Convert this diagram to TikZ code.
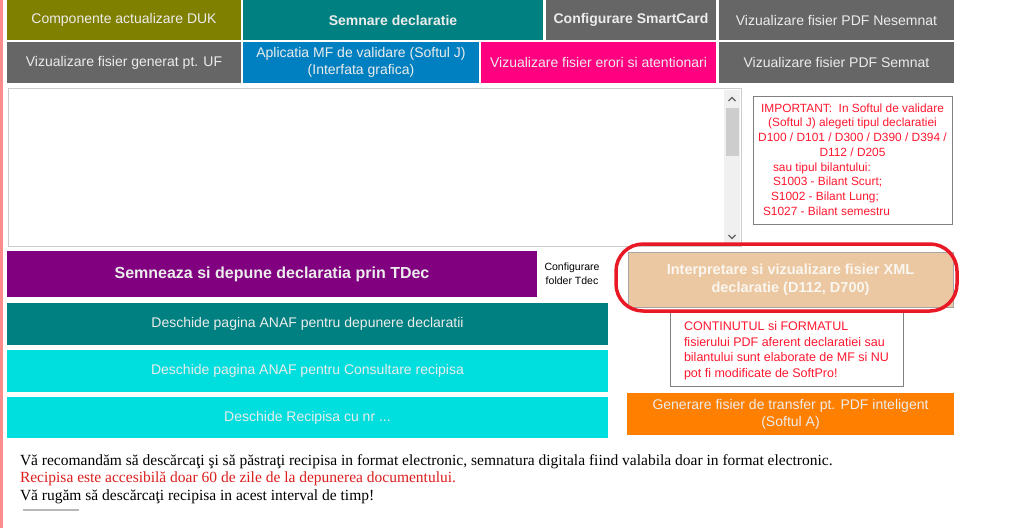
\documentclass[tikz,border=0pt]{standalone}
\usepackage{fontspec}
\setmainfont{Liberation Sans}
\newfontfamily\serifrm{Liberation Serif}
\definecolor{olivebtn}{RGB}{128,128,0}
\definecolor{tealbtn}{RGB}{0,128,128}
\definecolor{graybtn}{RGB}{102,102,102}
\definecolor{bluebtn}{RGB}{0,128,192}
\definecolor{pinkbtn}{RGB}{255,0,128}
\definecolor{purplebtn}{RGB}{128,0,128}
\definecolor{cyanbtn}{RGB}{0,222,222}
\definecolor{beigebtn}{RGB}{236,200,162}
\definecolor{orangebtn}{RGB}{255,128,0}
\definecolor{notered}{RGB}{255,24,48}
\definecolor{ringred}{RGB}{232,24,36}
\definecolor{btntext}{RGB}{236,236,236}
\definecolor{beigetext}{RGB}{250,246,240}
\definecolor{pinkedge}{RGB}{255,140,140}
\definecolor{memoborder}{RGB}{204,204,204}
\definecolor{boxgray}{RGB}{128,128,128}
\definecolor{scrollbg}{RGB}{240,240,240}
\definecolor{thumbgray}{RGB}{205,205,205}
\definecolor{arrowgray}{RGB}{96,96,96}
\definecolor{textred}{RGB}{220,30,30}
\newcommand\placebox[7]{\node[#6,minimum width={(#4)-(#2)},minimum height={(#5)-(#3)}] (#1) at ({((#2)+(#4))/2},{((#3)+(#5))/2}) {#7};}
\begin{document}
\begin{tikzpicture}[x=1pt,y=-1pt,
  btn/.style={rectangle,inner sep=0pt,outer sep=0pt,align=center,text=btntext,font=\fontsize{14}{17}\selectfont},
  boldbtn/.style={btn,font=\fontsize{14}{17}\bfseries},
  bigbtn/.style={btn,font=\fontsize{16}{19}\bfseries},
  panel/.style={rectangle,inner sep=0pt,outer sep=0pt,fill=white},
  notetext/.style={inner sep=0pt,outer sep=0pt,text=notered,font=\fontsize{11.9}{14.7}\selectfont},
  contenttext/.style={inner sep=0pt,outer sep=0pt,text=notered,align=left,font=\fontsize{12.5}{15.6}\selectfont},
  bottomtext/.style={inner sep=0pt,outer sep=0pt,anchor=base west,font=\serifrm\fontsize{15.5}{18}\selectfont},
  ringstyle/.style={rectangle,draw=ringred,line width=3.5pt,rounded corners=27pt,inner sep=0pt,outer sep=0pt}
]
\useasboundingbox[fill=white] (0,0) rectangle (1024,528);
\fill[pinkedge] (0,0) rectangle (3,528);
% row 1
\placebox{duk}{7}{0}{241}{40}{btn,fill=olivebtn}{Componente actualizare DUK}
\placebox{semnare}{243}{0}{543}{40}{boldbtn,fill=tealbtn}{Semnare declaratie}
\placebox{smartcard}{546}{0}{716}{40}{boldbtn,fill=graybtn}{Configurare SmartCard}
\placebox{pdfnesemnat}{719}{0}{954}{40}{btn,fill=graybtn}{Vizualizare fisier PDF Nesemnat}
% row 2
\placebox{uf}{7}{42}{241}{83}{btn,fill=graybtn}{Vizualizare fisier generat pt. UF}
\placebox{softj}{243}{42}{479}{83}{btn,fill=bluebtn}{Aplicatia MF de validare (Softul J)\\(Interfata grafica)}
\placebox{erori}{481}{42}{716}{83}{btn,fill=pinkbtn}{Vizualizare fisier erori si atentionari}
\placebox{pdfsemnat}{719}{42}{954}{83}{btn,fill=graybtn}{Vizualizare fisier PDF Semnat}
% text area with scrollbar
\placebox{memo}{8.5}{88.5}{741.5}{246.5}{panel,draw=memoborder,line width=1.5pt}{}
\placebox{scroll}{724}{90}{740}{245}{panel,fill=scrollbg}{}
\placebox{thumb}{725.5}{108}{738.5}{156}{panel,fill=thumbgray}{}
\draw[arrowgray,line width=1.1pt] (728.5,101) -- (732,97.5) -- (735.5,101);
\draw[arrowgray,line width=1.1pt] (728.5,235) -- (732,238.5) -- (735.5,235);
% important note
\placebox{note}{753.5}{96.5}{952.5}{224.5}{panel,draw=boxgray,line width=1pt}{}
\node[notetext,align=center,anchor=north] (notea) at (852.5,103.5) {IMPORTANT:\ \ In Softul de validare\\(Softul J) alegeti tipul declaratiei\\D100 / D101 / D300 / D390 / D394 /\\D112 / D205};
\node[notetext,align=left,anchor=north west] (noteb) at (763,162.5) {\hspace*{10pt}sau tipul bilantului:\\\hspace*{10pt}S1003 - Bilant Scurt;\\\hspace*{8pt}S1002 - Bilant Lung;\\S1027 - Bilant semestru};
% left buttons
\placebox{tdec}{7}{251}{537}{297}{bigbtn,fill=purplebtn}{Semneaza si depune declaratia prin TDec}
\node[inner sep=0pt,align=center,font=\fontsize{10.5}{14}\selectfont] (tdecfolder) at (572,274) {Configurare\\folder Tdec};
\placebox{depunere}{7}{303}{608}{345}{btn,fill=tealbtn}{Deschide pagina ANAF pentru depunere declaratii}
\placebox{consultare}{7}{350}{608}{392}{btn,fill=cyanbtn}{Deschide pagina ANAF pentru Consultare recipisa}
\placebox{recipisa}{7}{397}{608}{438}{btn,fill=cyanbtn}{Deschide Recipisa cu nr ...}
% right column
\placebox{content}{670.5}{310}{903.5}{386.5}{panel,draw=boxgray,line width=1pt}{}
\node[contenttext,anchor=north west] (contenttxt) at (684,321.5) {CONTINUTUL si FORMATUL\\fisierului PDF aferent declaratiei sau\\bilantului sunt elaborate de MF si NU\\pot fi modificate de SoftPro!};
\placebox{xml}{628}{252}{953}{307}{btn,fill=beigebtn,text=beigetext,draw=boxgray!70,line width=0.8pt,font=\fontsize{14.5}{18}\bfseries}{Interpretare si vizualizare fisier XML\\declaratie (D112, D700)}
\node[ringstyle,minimum width=341,minimum height=67] (ring) at (786.5,277.5) {};
\placebox{softa}{627}{393}{954}{435}{btn,fill=orangebtn}{Generare fisier de transfer pt. PDF inteligent\\(Softul A)}
% bottom text
\node[bottomtext] (line1) at (20,465) {Vă recomandăm să descărcaţi şi să păstraţi recipisa in format electronic, semnatura digitala fiind valabila doar in format electronic.};
\node[bottomtext,text=textred] (line2) at (20,482) {Recipisa este accesibilă doar 60 de zile de la depunerea documentului.};
\node[bottomtext] (line3) at (20,500.5) {Vă rugăm să descărcaţi recipisa in acest interval de timp!};
\draw[memoborder!90!black,line width=2pt] (23,510) -- (79,510);
\end{tikzpicture}
\end{document}
